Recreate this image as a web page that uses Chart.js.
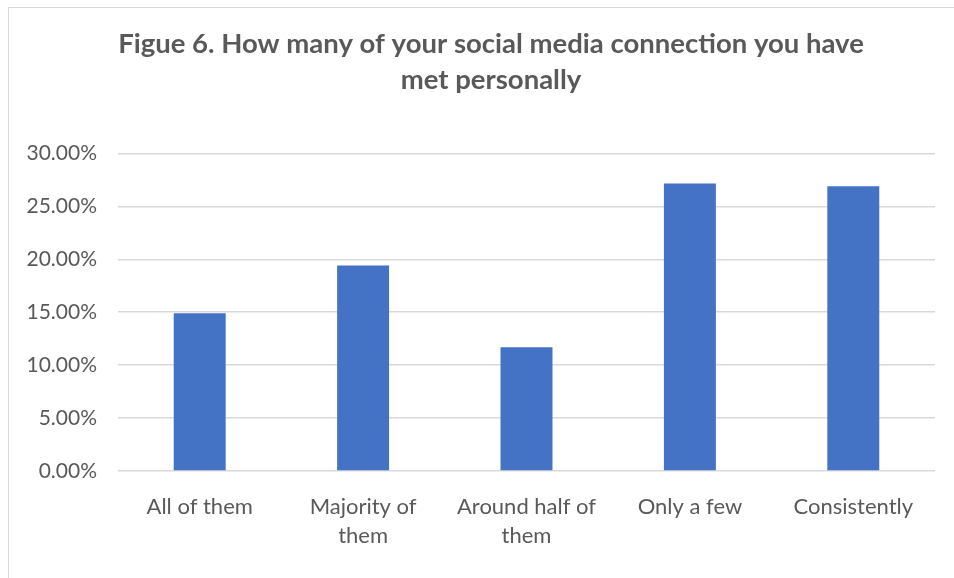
<!DOCTYPE html>
<html>
<head>
<meta charset="utf-8">
<script src="https://cdn.jsdelivr.net/npm/chart.js"></script>
<style>
  html, body { margin: 0; padding: 0; width: 954px; height: 578px; overflow: hidden; background: #fff; }
  #frame { position: absolute; left: 8px; top: 7px; width: 1000px; height: 620px; border: 1.5px solid #d9d9d9; box-sizing: border-box; }
  #wrap { position: absolute; left: 0; top: 0; width: 982px; height: 578px; }
</style>
</head>
<body>
<div id="frame"></div>
<div id="wrap"><canvas id="chart"></canvas></div>
<script>
// chart data
const categories = [["All of them"], ["Majority of", "them"], ["Around half of", "them"], ["Only a few"], ["Consistently"]];
const shares = [14.9, 19.4, 11.7, 27.15, 26.9];
const yTicks = [0, 5, 10, 15, 20, 25, 30];

const grey = '#595959';

// centre the title over the full frame, not just the padded box
const wideTitle = {
  id: 'wideTitle',
  afterLayout(chart) {
    if (chart.titleBlock) {
      chart.titleBlock.left = 0;
      chart.titleBlock.right = chart.width;
    }
  }
};

new Chart(document.getElementById('chart'), {
  type: 'bar',
  data: {
    labels: categories,
    datasets: [{ data: shares, backgroundColor: '#4472c4', barPercentage: 1, categoryPercentage: 0.318 }]
  },
  options: {
    responsive: true,
    maintainAspectRatio: false,
    animation: false,
    layout: { padding: { left: 0, right: 47, top: 0, bottom: 0 } },
    plugins: {
      legend: { display: false },
      tooltip: { enabled: false },
      title: {
        display: true,
        text: ['Figue 6. How many of your social media connection you have', 'met personally'],
        color: grey,
        font: { family: 'Lato', size: 27.5, weight: 'bold', lineHeight: 1.28 },
        padding: { top: 27, bottom: 56 }
      }
    },
    scales: {
      x: {
        grid: { display: false },
        border: { display: false },
        ticks: { color: grey, padding: 13, maxRotation: 0, autoSkip: false, font: { family: 'Lato', size: 22, lineHeight: 1.32 } },
        afterFit: s => { s.height = 107; }
      },
      y: {
        min: 0,
        max: 30,
        afterBuildTicks: s => { s.ticks = yTicks.map(v => ({ value: v })); },
        grid: { color: '#d9d9d9', lineWidth: 1.5, drawTicks: false },
        border: { display: false },
        ticks: { color: grey, padding: 21, font: { family: 'Lato', size: 21 }, callback: v => v.toFixed(2) + '%' },
        afterFit: s => { s.width = 118; }
      }
    }
  },
  plugins: [wideTitle]
});
</script>
</body>
</html>
